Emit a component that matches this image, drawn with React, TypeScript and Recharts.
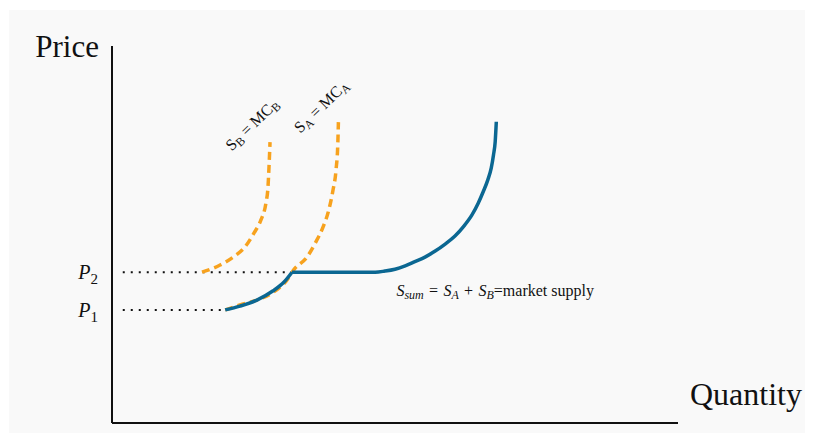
import React from 'react'
import { LineChart, Line, XAxis, YAxis, ReferenceDot } from 'recharts'

// quantity / price pairs (axes 0..10 in both directions)
const sbQ = [1.59, 1.91, 2.14, 2.35, 2.51, 2.63, 2.72, 2.756, 2.774, 2.792]
const sbP = [4.0, 4.19, 4.4, 4.67, 5.04, 5.38, 5.84, 6.26, 6.79, 7.45]

const saQ = [2.0, 2.26, 2.56, 2.85, 3.09, 3.22, 3.445, 3.59, 3.73, 3.83, 3.905, 3.958, 3.99, 4.0]
const saP = [3.0, 3.13, 3.26, 3.47, 3.79, 4.08, 4.4, 4.77, 5.2, 5.65, 6.18, 6.71, 7.43, 7.98]

const sumLowQ = [2.0, 2.26, 2.56, 2.84, 3.04, 3.18]
const sumLowP = [3.0, 3.1, 3.26, 3.5, 3.74, 4.0]
const sumHighQ = [3.18, 4.65, 4.82, 5.0, 5.18, 5.35, 5.53, 5.71, 5.88, 6.06, 6.21, 6.36, 6.47, 6.56, 6.64, 6.7, 6.74, 6.77, 6.79]
const sumHighP = [4.0, 4.0, 4.03, 4.08, 4.17, 4.28, 4.4, 4.56, 4.74, 4.96, 5.21, 5.52, 5.83, 6.14, 6.45, 6.76, 7.11, 7.46, 7.99]

const priceTicks = [3, 4]
const priceNames = ['1', '2']
const guideStartQ = 0.19
const guideEndQ = [2.0, 3.18]

const zip = (q: number[], p: number[]) => q.map((v, i) => ({ q: v, p: p[i] }))

const sbData = zip(sbQ, sbP)
const saData = zip(saQ, saP)
const sumLow = zip(sumLowQ, sumLowP)
const sumHigh = zip(sumHighQ, sumHighP)
const guides = priceTicks.map((p, i) => [{ q: guideStartQ, p }, { q: guideEndQ[i], p }])

const FONT = '"Liberation Serif", "Times New Roman", serif'
const ORANGE = '#f7a21e'
const BLUE = '#0b6792'

const PriceTick = (props: any) => {
  const { x, y, payload } = props
  const idx = priceTicks.indexOf(payload.value)
  return (
    <text x={x} y={y} dy={7} textAnchor="end" fontFamily={FONT} fontSize={20} fill="#111">
      <tspan fontStyle="italic">P</tspan>
      <tspan fontSize={15} dy={5}>{priceNames[idx]}</tspan>
    </text>
  )
}

const rotatedLabel = (main: string, sub1: string, main2: string, sub2: string) => (props: any) => {
  const vb = props.viewBox
  const cx = vb.x + vb.width / 2
  const cy = vb.y + vb.height / 2
  return (
    <text x={cx} y={cy} textAnchor="middle" fontFamily={FONT} fontSize={16} fill="#111"
      transform={`rotate(-44, ${cx}, ${cy})`}>
      <tspan>{main}</tspan>
      <tspan fontSize={12} dy={3}>{sub1}</tspan>
      <tspan dy={-3}>{main2}</tspan>
      <tspan fontSize={12} dy={3}>{sub2}</tspan>
    </text>
  )
}

const sumLabel = (props: any) => {
  const vb = props.viewBox
  const cx = vb.x + vb.width / 2
  const cy = vb.y + vb.height / 2
  return (
    <text x={cx} y={cy} dy={4} textAnchor="middle" fontFamily={FONT} fontSize={16} fill="#111">
      <tspan fontStyle="italic">S</tspan>
      <tspan fontStyle="italic" fontSize={12} dy={3}>sum</tspan>
      <tspan dy={-3}>{'\u2004=\u2004'}</tspan>
      <tspan fontStyle="italic">S</tspan>
      <tspan fontStyle="italic" fontSize={12} dy={3}>A</tspan>
      <tspan dy={-3}>{'\u2004+\u2004'}</tspan>
      <tspan fontStyle="italic">S</tspan>
      <tspan fontStyle="italic" fontSize={12} dy={3}>B</tspan>
      <tspan dy={-3}>=market supply</tspan>
    </text>
  )
}

const priceTitle = (props: any) => {
  const vb = props.viewBox
  return (
    <text x={vb.x + vb.width - 13} y={vb.y + 11} textAnchor="end" fontFamily={FONT} fontSize={31} fill="#111">
      Price
    </text>
  )
}

const quantityTitle = (props: any) => {
  const vb = props.viewBox
  return (
    <text x={vb.x + vb.width + 12} y={vb.y - 18} textAnchor="start" fontFamily={FONT} fontSize={32} fill="#111">
      Quantity
    </text>
  )
}

const App: React.FC = () => {
  return (
    <div style={{ marginLeft: 1, marginTop: 2 }}>
      <LineChart
        width={804}
        height={423}
        data={sumHigh}
        margin={{ top: 36, right: 135, bottom: 9, left: 102 }}
        style={{ background: '#f9f9f9' }}
      >
        <XAxis
          type="number"
          dataKey="q"
          domain={[0, 10]}
          allowDataOverflow
          tick={false}
          tickLine={false}
          height={1}
          axisLine={{ stroke: '#111', strokeWidth: 2 }}
          label={{ content: quantityTitle }}
        />
        <YAxis
          type="number"
          dataKey="p"
          domain={[0, 10]}
          allowDataOverflow
          ticks={priceTicks}
          tick={<PriceTick />}
          tickLine={false}
          tickSize={0}
          tickMargin={14}
          width={1}
          axisLine={{ stroke: '#111', strokeWidth: 2 }}
          label={{ content: priceTitle }}
        />
        {guides.map((g, i) => (
          <Line key={'g' + i} data={g} dataKey="p" type="linear" stroke="#111" strokeWidth={2}
            strokeDasharray="2 6" dot={false} activeDot={false} isAnimationActive={false} />
        ))}
        <Line data={sbData} dataKey="p" type="monotone" stroke={ORANGE} strokeWidth={3.5}
          strokeDasharray="8 5" dot={false} activeDot={false} isAnimationActive={false} />
        <Line data={saData} dataKey="p" type="monotone" stroke={ORANGE} strokeWidth={3.5}
          strokeDasharray="8 5" dot={false} activeDot={false} isAnimationActive={false} />
        <Line data={sumLow} dataKey="p" type="monotone" stroke={BLUE} strokeWidth={3.5}
          dot={false} activeDot={false} isAnimationActive={false} />
        <Line data={sumHigh} dataKey="p" type="monotone" stroke={BLUE} strokeWidth={3.5}
          dot={false} activeDot={false} isAnimationActive={false} />
        <ReferenceDot x={2.54} y={7.82} r={1} fill="none" stroke="none"
          label={{ content: rotatedLabel('S', 'B', ' = MC', 'B') }} />
        <ReferenceDot x={3.76} y={8.3} r={1} fill="none" stroke="none"
          label={{ content: rotatedLabel('S', 'A', ' = MC', 'A') }} />
        <ReferenceDot x={6.77} y={3.47} r={1} fill="none" stroke="none"
          label={{ content: sumLabel }} />
      </LineChart>
    </div>
  )
}

export default App
